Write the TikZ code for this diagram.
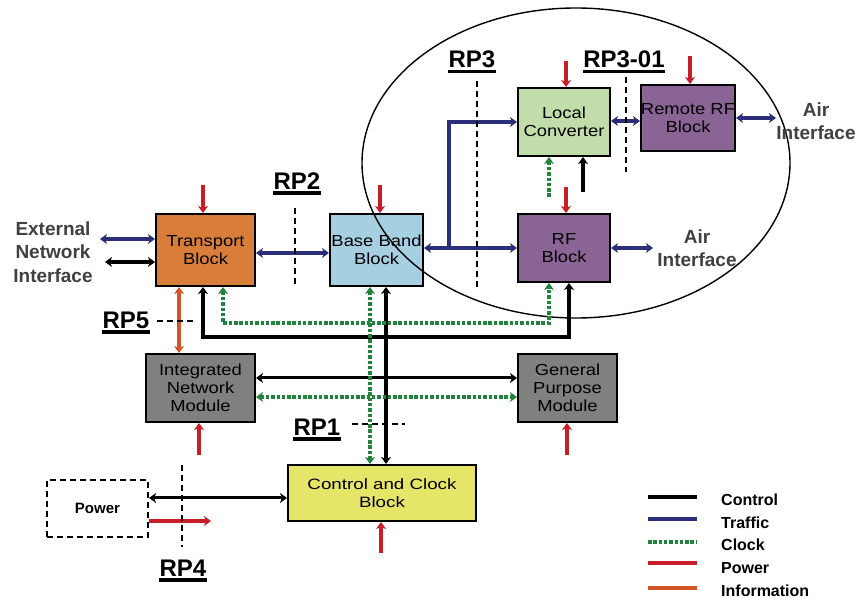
\documentclass[tikz,border=0pt]{standalone}
\usepackage{fontspec}
\setmainfont{Liberation Sans}
\newfontfamily\boxfont[FakeStretch=1.15]{Liberation Sans}
\newfontfamily\ccfont[FakeStretch=1.25]{Liberation Sans}
\usetikzlibrary{arrows.meta,calc}
\definecolor{traffic}{RGB}{43,46,120}
\definecolor{clockc}{RGB}{35,130,60}
\definecolor{powerc}{RGB}{200,30,40}
\definecolor{infoc}{RGB}{210,85,40}
\definecolor{tborange}{RGB}{217,126,58}
\definecolor{bbblue}{RGB}{166,207,226}
\definecolor{lcgreen}{RGB}{192,221,170}
\definecolor{rfpurple}{RGB}{139,100,150}
\definecolor{modgray}{RGB}{128,128,126}
\definecolor{ccyellow}{RGB}{229,229,106}
\definecolor{labgray}{RGB}{64,64,64}
\begin{document}
\begin{tikzpicture}[x=1pt,y=-1pt,
  >={Stealth[length=7pt,width=10pt,inset=2pt]},
  blk/.style={draw=black,line width=2pt,inner sep=0pt,align=center,font=\boxfont\fontsize{16}{18}\selectfont},
  ctl/.style={line width=3.6pt,draw=black},
  trf/.style={line width=4pt,draw=traffic},
  clk/.style={line width=4pt,draw=clockc,dash pattern=on 3.5pt off 1.8pt},
  pwr/.style={line width=4pt,draw=powerc},
  inf/.style={line width=4pt,draw=infoc},
  rplab/.style={font=\bfseries\fontsize{24}{24}\selectfont,inner sep=0pt},
  rpul/.style={line width=3.2pt},
  rpline/.style={line width=2.4pt,dash pattern=on 6pt off 4pt},
  glab/.style={text=labgray,font=\bfseries\fontsize{19}{23.5}\selectfont,align=center,inner sep=0pt},
  leg/.style={font=\bfseries\fontsize{16}{16}\selectfont,anchor=west,inner sep=0pt}
]
\useasboundingbox (0,0) rectangle (860,601);

% blocks
\node[blk,fill=tborange,minimum width=99pt,minimum height=72pt] (tb) at (205.5,250) {Transport\\Block};
\node[blk,fill=bbblue,minimum width=93pt,minimum height=72pt] (bb) at (376.5,250) {Base Band\\Block};
\node[blk,fill=modgray,minimum width=109pt,minimum height=68pt] (inm) at (200.5,388) {Integrated\\Network\\Module};
\node[blk,fill=lcgreen,minimum width=92pt,minimum height=68pt] (lc) at (564,122) {Local\\Converter};
\node[blk,fill=rfpurple,minimum width=92pt,minimum height=66pt] (rrf) at (688,118) {Remote RF\\Block};
\node[blk,fill=rfpurple,minimum width=92pt,minimum height=68pt] (rf) at (564,248) {RF\\Block};
\node[blk,fill=modgray,minimum width=99pt,minimum height=68pt] (gpm) at (567.5,388) {General\\Purpose\\Module};
\node[blk,fill=ccyellow,minimum width=188pt,minimum height=56pt,font=\ccfont\fontsize{15}{18}\selectfont] (ccb) at (382,493) {Control and Clock\\Block};
\node[draw=black,line width=2.2pt,dash pattern=on 6pt off 4pt,minimum width=101pt,minimum height=57pt,inner sep=0pt,font=\bfseries\fontsize{15}{18}\selectfont] (power) at (97.5,508.5) {Power};

% ellipse
\draw[line width=1.4pt] (576,163) ellipse [x radius=214pt, y radius=155pt];

% text labels
\node[glab] (eni) at (53,252) {External\\Network\\Interface};
\node[glab] (ai1) at (816,121) {Air\\Interface};
\node[glab] (ai2) at (697,248) {Air\\Interface};

% free end coordinates
\coordinate (e1) at (100,239);
\coordinate (e2) at (105,262);
\coordinate (a1) at (776,118);
\coordinate (a2) at (653,248);
\coordinate (br) at (449,248);
\coordinate (g1) at (549,197);
\coordinate (k1) at (583,192);
\coordinate (p1) at (203,185);
\coordinate (p2) at (380,185);
\coordinate (p3) at (566,61);
\coordinate (p4) at (690,56);
\coordinate (p5) at (566,187);
\coordinate (p6) at (199,455);
\coordinate (p7) at (567,455);
\coordinate (p8) at (381,553);
\coordinate (p9) at (211,521);

% traffic
\draw[trf,<->] (e1) -- (e1 -| tb.west);
\draw[trf,<->] (tb.east |- 0,253) -- (bb.west |- 0,253);
\draw[trf,<->] (bb.east |- br) -- (rf.west |- br);
\draw[trf,->] (br) |- (lc.west);
\draw[trf,<->] (lc.east |- 0,121) -- (rrf.west |- 0,121);
\draw[trf,<->] (rrf.east) -- (a1);
\draw[trf,<->] (rf.east) -- (a2);

% control
\draw[ctl,<->] (e2) -- (e2 -| tb.west);
\draw[ctl,->] (k1) -- (k1 |- lc.south);
\draw[ctl,<->] (tb.south -| 203,0) -- (203,337) -| (rf.south -| 569,0);
\draw[ctl,<->] (bb.south -| 386,0) -- (ccb.north -| 386,0);
\draw[ctl,<->,line width=3pt] (inm.east |- 0,378) -- (gpm.west |- 0,378);
\draw[ctl,<->,line width=3pt] (power.east |- 0,498) -- (ccb.west |- 0,498);

% clock
\draw[clk,->] (g1) -- (g1 |- lc.south);
\draw[clk,<->] (tb.south -| 223,0) -- (223,323) -| (rf.south -| 549,0);
\draw[clk,<->] (bb.south -| 370,0) -- (ccb.north -| 370,0);
\draw[clk,<->] (inm.east |- 0,397) -- (gpm.west |- 0,397);

% information
\draw[inf,<->] (tb.south -| 179,0) -- (inm.north -| 179,0);

% power
\draw[pwr,->] (p1) -- (p1 |- tb.north);
\draw[pwr,->] (p2) -- (p2 |- bb.north);
\draw[pwr,->] (p3) -- (p3 |- lc.north);
\draw[pwr,->] (p4) -- (p4 |- rrf.north);
\draw[pwr,->] (p5) -- (p5 |- rf.north);
\draw[pwr,->] (p6) -- (p6 |- inm.south);
\draw[pwr,->] (p7) -- (p7 |- gpm.south);
\draw[pwr,->] (p8) -- (p8 |- ccb.south);
\draw[pwr,->] (power.east |- p9) -- (p9);

% reference points
\node[rplab] (rp2) at (297,181) {RP2};
\node[rplab] (rp3) at (472,59) {RP3};
\node[rplab] (rp301) at (624,59) {RP3-01};
\node[rplab] (rp5) at (126,320) {RP5};
\node[rplab] (rp1) at (317,427) {RP1};
\node[rplab] (rp4) at (183,568) {RP4};
\foreach \n in {rp2,rp3,rp301,rp5,rp1,rp4}
  \draw[rpul] ([yshift=-3.5pt]\n.south west) -- ([yshift=-3.5pt]\n.south east);

\coordinate (d2a) at (295,208); \coordinate (d2b) at (295,286);
\coordinate (d3a) at (477,81);  \coordinate (d3b) at (477,288);
\coordinate (d31a) at (626,77); \coordinate (d31b) at (626,172);
\coordinate (d5a) at (157,321); \coordinate (d5b) at (196,321);
\coordinate (d1a) at (352,424); \coordinate (d1b) at (405,424);
\coordinate (d4a) at (182,465); \coordinate (d4b) at (182,547);
\draw[rpline] (d2a) -- (d2b);
\draw[rpline] (d3a) -- (d3b);
\draw[rpline] (d31a) -- (d31b);
\draw[rpline] (d5a) -- (d5b);
\draw[rpline] (d1a) -- (d1b);
\draw[rpline] (d4a) -- (d4b);

% legend
\coordinate (l1a) at (648,497); \coordinate (l1b) at (697,497);
\coordinate (l2a) at (648,519); \coordinate (l2b) at (697,519);
\coordinate (l3a) at (648,542); \coordinate (l3b) at (697,542);
\coordinate (l4a) at (648,563); \coordinate (l4b) at (697,563);
\coordinate (l5a) at (648,588); \coordinate (l5b) at (697,588);
\draw[ctl,line width=4.5pt] (l1a) -- (l1b);
\draw[trf] (l2a) -- (l2b);
\draw[clk,line width=3.5pt] (l3a) -- (l3b);
\draw[pwr,line width=4.5pt] (l4a) -- (l4b);
\draw[inf,line width=3.5pt] (l5a) -- (l5b);
\node[leg] (lg1) at (721,500) {Control};
\node[leg] (lg2) at (721,523) {Traffic};
\node[leg] (lg3) at (721,545) {Clock};
\node[leg] (lg4) at (721,568) {Power};
\node[leg] (lg5) at (721,591) {Information};
\end{tikzpicture}
\end{document}
